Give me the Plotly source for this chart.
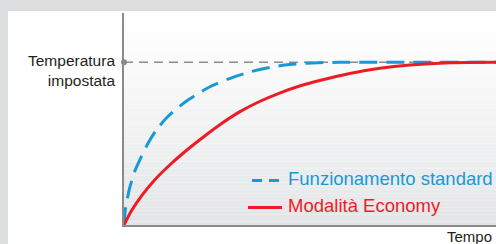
import plotly.graph_objects as go

# ---- data ----
setpoint = 100
std_x = [0, 0.35, 1.51, 2.85, 4.66, 6.46, 8.70, 11.66, 14.89, 17.59, 22.97, 28.35, 33.74, 39.13, 44.51, 50.71, 57.98, 80, 100]
std_y = [0, 9.2, 22.6, 32.8, 42.0, 50.2, 58.4, 66.4, 72.8, 77.4, 84.8, 90.0, 94.0, 96.8, 98.6, 99.6, 100, 100, 100]
eco_x = [0, 1.97, 4.66, 8.24, 12.74, 17.24, 20.82, 25.67, 31.06, 36.44, 41.83, 47.21, 52.60, 60.68, 68.76, 76.84, 87.61, 100]
eco_y = [0, 8.6, 17.8, 27.7, 37.8, 46.7, 53.2, 61.5, 69.5, 75.9, 81.1, 85.4, 88.8, 93.1, 96.3, 98.3, 99.7, 100]
label_std = "Funzionamento standard"
label_eco = "Modalità Economy"
label_set = "Temperatura<br>impostata"
label_time = "Tempo"

BLUE = "#1799d6"
RED = "#ed1c24"
GRAY = "#8b8b8b"
FRAME = "#dcdddf"
TEXT = "#231f20"

W, H = 496, 244
ML, MR, MT, MB = 124, 0, 13, 19
PW, PH = W - ML - MR, H - MT - MB


def px(xp):
    return (xp - ML) / PW


def py(yp):
    return (H - MB - yp) / PH


fig = go.Figure()

# set-point reference line
fig.add_trace(go.Scatter(x=[0, 100], y=[setpoint, setpoint], mode="lines",
                         line=dict(color=GRAY, width=1.4, dash="9px,6px"),
                         showlegend=False, hoverinfo="skip"))
fig.add_trace(go.Scatter(x=[0], y=[setpoint], mode="markers",
                         marker=dict(color=GRAY, size=6), cliponaxis=False,
                         showlegend=False, hoverinfo="skip"))

# curves
fig.add_trace(go.Scatter(x=std_x, y=std_y, mode="lines", line_shape="spline",
                         line=dict(color=BLUE, width=3, dash="18px,9px", smoothing=0.8),
                         showlegend=False, name=label_std))
fig.add_trace(go.Scatter(x=eco_x, y=eco_y, mode="lines", line_shape="spline",
                         line=dict(color=RED, width=3, smoothing=0.8),
                         showlegend=False, name=label_eco))

shapes = []
# background gradient in plot area
N = 60
top, bot = MT, H - MB
for i in range(N):
    y0 = top + (bot - top) * i / N
    y1 = top + (bot - top) * (i + 1) / N
    t = (i + 0.5) / N
    t = t ** 1.2
    c0, c1 = (255, 255, 255), (227, 228, 230)
    col = "rgb(%d,%d,%d)" % tuple(round(a + (b - a) * t) for a, b in zip(c0, c1))
    shapes.append(dict(type="rect", xref="paper", yref="paper", layer="below",
                       x0=0, x1=1, y0=py(y1), y1=py(y0),
                       fillcolor=col, line=dict(width=0)))
# gray frame strips (top and left)
shapes.append(dict(type="rect", xref="paper", yref="paper", layer="above",
                   x0=px(0), x1=px(W), y0=py(11), y1=py(0),
                   fillcolor=FRAME, line=dict(width=0)))
shapes.append(dict(type="rect", xref="paper", yref="paper", layer="above",
                   x0=px(0), x1=px(8), y0=py(H), y1=py(0),
                   fillcolor=FRAME, line=dict(width=0)))
# legend samples
shapes.append(dict(type="line", xref="paper", yref="paper", layer="above",
                   x0=px(252), x1=px(281), y0=py(180.5), y1=py(180.5),
                   line=dict(color=BLUE, width=3, dash="10px,7px")))
shapes.append(dict(type="line", xref="paper", yref="paper", layer="above",
                   x0=px(248), x1=px(282), y0=py(207.5), y1=py(207.5),
                   line=dict(color=RED, width=3)))

annotations = [
    dict(text=label_set, xref="paper", yref="paper", x=px(117), y=py(50),
         xanchor="right", yanchor="top", align="right", showarrow=False,
         font=dict(size=15.5, color=TEXT)),
    dict(text=label_time, xref="paper", yref="paper", x=px(494), y=py(236),
         xanchor="right", yanchor="middle", showarrow=False,
         font=dict(size=15, color=TEXT)),
    dict(text=label_std, xref="paper", yref="paper", x=px(286), y=py(178.5),
         xanchor="left", yanchor="middle", showarrow=False,
         font=dict(size=18.5, color=BLUE)),
    dict(text=label_eco, xref="paper", yref="paper", x=px(286), y=py(205.5),
         xanchor="left", yanchor="middle", showarrow=False,
         font=dict(size=18.5, color=RED)),
]

fig.update_layout(
    width=W, height=H,
    margin=dict(l=ML, r=MR, t=MT, b=MB, pad=0),
    paper_bgcolor="white", plot_bgcolor="rgba(0,0,0,0)",
    font=dict(family="Liberation Sans, Arial, sans-serif"),
    xaxis=dict(range=[0, 100], showgrid=False, zeroline=False, showticklabels=False,
               ticks="", showline=True, linecolor=GRAY, linewidth=1.5, fixedrange=True),
    yaxis=dict(range=[0, 130.3], showgrid=False, zeroline=False, showticklabels=False,
               ticks="", showline=True, linecolor=GRAY, linewidth=1.5, fixedrange=True),
    showlegend=False, hovermode=False,
    shapes=shapes, annotations=annotations,
)
fig.write_html("out.html", config={"displayModeBar": False},
               post_script="document.body.style.margin='0';document.body.style.overflow='hidden';")
